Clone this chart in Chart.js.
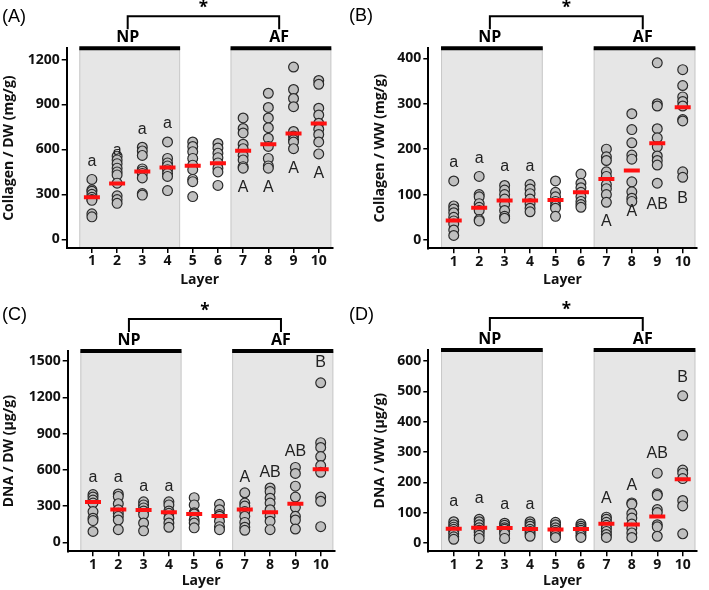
<!DOCTYPE html>
<html><head><meta charset="utf-8">
<script src="https://cdn.jsdelivr.net/npm/chart.js@4.4.0/dist/chart.umd.min.js"></script>
<style>
html,body{margin:0;padding:0;background:#fff;}
#wrap{position:relative;width:709px;height:590px;overflow:hidden;background:#fff;}
canvas{position:absolute;}
</style></head><body>
<div id="wrap">
<canvas id="cA" width="350" height="290" style="left:0px;top:0px"></canvas>
<canvas id="cB" width="364" height="290" style="left:345px;top:0px"></canvas>
<canvas id="cC" width="350" height="300" style="left:0px;top:290px"></canvas>
<canvas id="cD" width="364" height="300" style="left:345px;top:290px"></canvas>
</div>
<script>
// ---------- data ----------
const layers = [1,2,3,4,5,6,7,8,9,10];
const layerTickLabels = ['1','2','3','4','5','6','7','8','9','10'];
const regionNames = ['NP','AF'];

// (A) Collagen / DW (mg/g)
const collagenDW = [
  [400, 330, 320, 300, 280, 265, 260, 170, 150],
  [555, 530, 505, 475, 450, 430, 375, 290, 265, 240],
  [615, 590, 560, 470, 455, 440, 410, 305, 295],
  [650, 540, 510, 490, 465, 440, 420, 325],
  [650, 620, 585, 540, 495, 465, 400, 385, 285],
  [640, 610, 575, 545, 510, 475, 450, 360],
  [810, 740, 710, 635, 605, 560, 530, 485, 475],
  [975, 880, 810, 745, 675, 620, 540, 490, 475],
  [1150, 1000, 940, 885, 720, 690, 665, 650, 605],
  [1060, 1035, 875, 830, 775, 735, 700, 650, 570]
];
const collagenDWMean = [280, 373, 453, 480, 491, 507, 591, 635, 707, 773];
const collagenDWTicks = [0, 300, 600, 900, 1200];
const collagenDWLetters = ['a','a','a','a','','','A','A','A','A'];
const collagenDWLetterAt = [522, 589, 733, 773, null, null, 344, 344, 473, 440];

// (B) Collagen / WW (mg/g)
const collagenWW = [
  [130, 75, 68, 60, 50, 42, 35, 22, 10],
  [140, 100, 95, 80, 72, 65, 45, 42],
  [120, 110, 100, 90, 78, 65, 52, 48],
  [122, 112, 102, 90, 80, 70, 62],
  [130, 105, 95, 85, 75, 70, 52],
  [145, 125, 115, 105, 95, 85, 78, 72],
  [200, 183, 175, 150, 140, 122, 113, 100, 83],
  [278, 243, 214, 187, 178, 128, 106, 92, 85],
  [390, 300, 295, 245, 225, 205, 185, 175, 165, 125],
  [375, 340, 315, 305, 295, 265, 262, 150, 138]
];
const collagenWWMean = [43, 71, 87, 87, 88, 105, 134, 153, 213, 292];
const collagenWWTicks = [0, 100, 200, 300, 400];
const collagenWWLetters = ['a','a','a','a','','','A','A','AB','B'];
const collagenWWLetterAt = [170, 180, 161, 161, null, null, 40, 62, 79, 92];

// (C) DNA / DW (µg/g)
const dnaDW = [
  [395, 375, 350, 325, 255, 200, 180, 90],
  [400, 380, 320, 270, 240, 215, 185, 105],
  [335, 310, 285, 260, 230, 160, 95],
  [335, 310, 260, 240, 200, 160, 125],
  [370, 310, 245, 235, 185, 160, 120],
  [315, 270, 230, 215, 175, 130, 105],
  [410, 325, 300, 255, 215, 165, 125, 100],
  [450, 420, 365, 325, 270, 215, 175, 105],
  [620, 570, 465, 375, 290, 215, 185, 110],
  [1320, 825, 785, 710, 635, 580, 375, 340, 130]
];
const dnaDWMean = [333, 272, 267, 250, 234, 217, 272, 250, 319, 605];
const dnaDWTicks = [0, 300, 600, 900, 1200, 1500];
const dnaDWLetters = ['a','a','a','a','','','A','AB','AB','B'];
const dnaDWLetterAt = [539, 539, 462, 462, null, null, 539, 578, 751, 1486];

// (D) DNA / WW (µg/g)
const dnaWW = [
  [70, 60, 52, 45, 38, 30, 20, 12],
  [78, 70, 60, 50, 42, 35, 25, 15],
  [65, 58, 50, 45, 38, 30, 15],
  [70, 62, 55, 45, 38, 30, 22],
  [68, 60, 50, 42, 35, 25, 18],
  [62, 55, 48, 42, 35, 25, 18],
  [85, 78, 68, 58, 48, 38, 28, 18],
  [132, 128, 97, 82, 62, 48, 33, 18],
  [230, 162, 157, 110, 100, 60, 53, 22],
  [485, 355, 240, 230, 212, 140, 122, 30]
];
const dnaWWMean = [47, 50, 49, 46, 44, 46, 63, 61, 87, 210];
const dnaWWTicks = [0, 100, 200, 300, 400, 500, 600];
const dnaWWLetters = ['a','a','a','a','','','A','A','AB','B'];
const dnaWWLetterAt = [137, 145, 128, 128, null, null, 145, 189, 293, 546];

// ---------- drawing ----------
const shadeSpans = [[0.5, 4.5], [6.5, 10.5]];
const regionCenters = [2.42, 8.43];
const boldFont = '"Open Sans"';

const decor = {
  id: 'decor',
  beforeDraw(chart, args, o) {
    const {ctx, chartArea: ca, scales: {x}} = chart;
    ctx.save();
    for (const [a, b] of shadeSpans) {
      const xa = x.getPixelForValue(a), xb = x.getPixelForValue(b);
      ctx.fillStyle = '#e6e6e6';
      ctx.fillRect(xa, ca.top, xb - xa, ca.bottom - ca.top);
      ctx.strokeStyle = '#c9c9c9';
      ctx.lineWidth = 1;
      ctx.beginPath();
      ctx.moveTo(xa + 0.5, ca.top); ctx.lineTo(xa + 0.5, ca.bottom);
      ctx.moveTo(xb - 0.5, ca.top); ctx.lineTo(xb - 0.5, ca.bottom);
      ctx.stroke();
    }
    ctx.restore();
  },
  afterDraw(chart, args, o) {
    const {ctx, chartArea: ca, scales: {x, y}} = chart;
    ctx.save();
    // region bars
    ctx.strokeStyle = '#000';
    ctx.lineWidth = 4;
    ctx.beginPath();
    for (const [a, b] of shadeSpans) {
      ctx.moveTo(x.getPixelForValue(a), ca.top);
      ctx.lineTo(x.getPixelForValue(b), ca.top);
    }
    ctx.stroke();
    // region names
    ctx.fillStyle = '#000';
    ctx.font = 'bold 16px ' + boldFont;
    ctx.textAlign = 'center';
    ctx.textBaseline = 'middle';
    regionNames.forEach((n, i) => ctx.fillText(n, x.getPixelForValue(regionCenters[i]), ca.top - 10.5));
    // bracket
    const x1 = x.getPixelForValue(regionCenters[0]), x2 = x.getPixelForValue(regionCenters[1]);
    ctx.lineWidth = 2;
    ctx.beginPath();
    ctx.moveTo(x1, ca.top - 19);
    ctx.lineTo(x1, ca.top - 32);
    ctx.lineTo(x2, ca.top - 32);
    ctx.lineTo(x2, ca.top - 19);
    ctx.stroke();
    ctx.font = 'bold 17px ' + boldFont;
    ctx.textBaseline = 'alphabetic';
    ctx.fillText('*', (x1 + x2) / 2, ca.top - 35);
    // panel label
    ctx.font = '18px "Liberation Sans"';
    ctx.textAlign = 'left';
    ctx.textBaseline = 'middle';
    ctx.fillText(o.label, o.labelX, o.labelY);
    // letters
    ctx.fillStyle = '#222';
    ctx.font = '16px "Liberation Sans"';
    ctx.textAlign = 'center';
    o.letters.forEach((t, i) => {
      if (!t) return;
      ctx.fillText(t, x.getPixelForValue(layers[i]), y.getPixelForValue(o.letterAt[i]));
    });
    ctx.restore();
  }
};

function makeChart(id, cfg) {
  const pts = [];
  cfg.values.forEach((arr, i) => arr.forEach(v => pts.push({x: layers[i], y: v})));
  const means = cfg.means.map((m, i) => ({x: layers[i], y: m}));
  new Chart(document.getElementById(id), {
    type: 'scatter',
    data: {datasets: [
      {data: means, pointStyle: 'line', pointRadius: 8, pointBorderWidth: 4,
       pointBorderColor: '#ff1111', pointBackgroundColor: '#ff1111', borderColor: '#ff1111', order: 0},
      {data: pts, pointStyle: 'circle', pointRadius: 4.9, pointBorderWidth: 1.2,
       pointBackgroundColor: '#bfbfbf', pointBorderColor: '#2a2a2a', order: 1}
    ]},
    plugins: [decor],
    options: {
      responsive: false, animation: false, devicePixelRatio: 1, events: [],
      layout: {padding: {top: cfg.top, right: cfg.right, left: cfg.left, bottom: 0}},
      plugins: {
        legend: {display: false}, tooltip: {enabled: false},
        decor: {label: cfg.label, labelX: cfg.labelX, labelY: cfg.labelY, letters: cfg.letters, letterAt: cfg.letterAt}
      },
      scales: {
        x: {
          type: 'linear', min: 0, max: 10.55,
          afterBuildTicks: s => { s.ticks = layers.map(v => ({value: v})); },
          afterFit: s => { s.height = cfg.xH; },
          ticks: {callback: v => layerTickLabels[layers.indexOf(v)], color: '#111',
                  font: {family: boldFont, weight: 'bold', size: 14}, padding: 0, maxRotation: 0, autoSkip: false},
          grid: {display: true, drawOnChartArea: false, drawTicks: true, tickLength: 5, color: '#000', lineWidth: 1.5},
          border: {display: true, color: '#000', width: 2},
          title: {display: true, text: 'Layer', color: '#111', font: {family: boldFont, weight: 'bold', size: 14},
                  padding: {top: 0, bottom: cfg.xTitlePad}}
        },
        y: {
          type: 'linear', min: cfg.yMin, max: cfg.yMax,
          afterBuildTicks: s => { s.ticks = cfg.ticks.map(v => ({value: v})); },
          afterFit: s => { s.width = cfg.yW; },
          ticks: {callback: v => String(v), color: '#111',
                  font: {family: boldFont, weight: 'bold', size: 14}, padding: 2, autoSkip: false},
          grid: {display: true, drawOnChartArea: false, drawTicks: true, tickLength: 5, color: '#000', lineWidth: 1.5},
          border: {display: true, color: '#000', width: 2},
          title: {display: true, text: cfg.yTitle, color: '#111', font: {family: boldFont, weight: 'bold', size: 14},
                  padding: {top: 1, bottom: 0}}
        }
      }
    }
  });
}

makeChart('cA', {values: collagenDW, means: collagenDWMean, ticks: collagenDWTicks,
  letters: collagenDWLetters, letterAt: collagenDWLetterAt, yTitle: 'Collagen / DW (mg/g)',
  yMin: -58, yMax: 1275, left: 0, yW: 66.7, top: 48.3, right: 17.4, xH: 42, xTitlePad: 2,
  label: '(A)', labelX: 2, labelY: 17});
makeChart('cB', {values: collagenWW, means: collagenWWMean, ticks: collagenWWTicks,
  letters: collagenWWLetters, letterAt: collagenWWLetterAt, yTitle: 'Collagen / WW (mg/g)',
  yMin: -18.3, yMax: 422, left: 25.2, yW: 58.1, top: 48.3, right: 12.3, xH: 41.7, xTitlePad: 2,
  label: '(B)', labelX: 4, labelY: 16});
makeChart('cC', {values: dnaDW, means: dnaDWMean, ticks: dnaDWTicks,
  letters: dnaDWLetters, letterAt: dnaDWLetterAt, yTitle: 'DNA / DW (\u00b5g/g)',
  yMin: -74, yMax: 1583, left: 0, yW: 67.7, top: 61, right: 15.4, xH: 38.7, xTitlePad: 1,
  label: '(C)', labelX: 2, labelY: 25});
makeChart('cD', {values: dnaWW, means: dnaWWMean, ticks: dnaWWTicks,
  letters: dnaWWLetters, letterAt: dnaWWLetterAt, yTitle: 'DNA / WW (\u00b5g/g)',
  yMin: -27.6, yMax: 636, left: 25.2, yW: 58.1, top: 60, right: 12.3, xH: 38.7, xTitlePad: 1,
  label: '(D)', labelX: 4, labelY: 25});
</script>
</body></html>
